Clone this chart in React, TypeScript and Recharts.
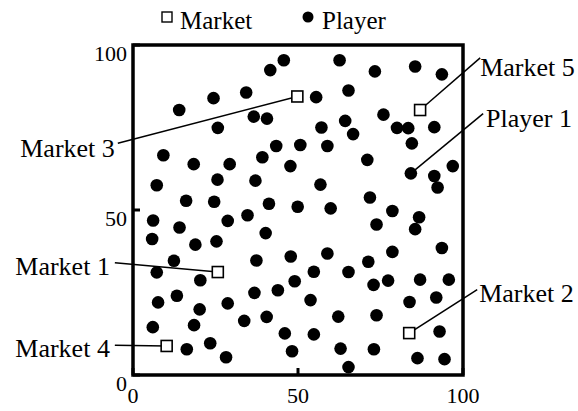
import React from "react";
import {
  ScatterChart,
  Scatter,
  XAxis,
  YAxis,
  ReferenceArea,
  ReferenceLine,
  ReferenceDot,
  Legend,
} from "recharts";

const FONT = '"Liberation Serif", "Times New Roman", serif';

const playerX = [
  45.7, 41.6, 34.3, 24.4, 14.0, 36.6, 40.6, 25.7, 43.4, 50.7, 9.2, 18.4, 29.3, 39.2, 47.7, 7.2, 25.6, 37.1, 16.1, 24.6, 41.2, 49.9, 6.1, 34.7, 28.7,
  62.6, 73.3, 85.5, 93.6, 55.5, 65.3, 75.9, 64.3, 57.1, 66.7, 80.0, 83.4, 91.3, 84.5, 58.9, 71.0, 84.2, 91.3, 96.9, 92.3, 56.8, 71.8, 59.9, 78.6, 86.7,
  14.1, 5.8, 18.9, 25.3, 40.2, 12.4, 7.2, 20.4, 37.4, 47.8, 49.0, 7.6, 13.3, 20.2, 28.7, 36.8, 43.9, 6.0, 18.5, 33.7, 40.5, 46.0, 16.3, 23.4, 28.2, 48.2,
  85.5, 73.8, 93.6, 78.6, 71.3, 58.9, 54.8, 65.3, 72.9, 77.3, 87.0, 95.7, 53.8, 62.2, 73.8, 83.8, 91.9, 54.8, 62.9, 73.0, 92.9, 86.2, 94.4, 65.3,
];
const playerY = [
  95.4, 92.4, 85.6, 83.9, 80.3, 78.3, 77.7, 74.9, 69.4, 69.7, 66.6, 63.9, 63.9, 66.0, 63.3, 57.5, 59.2, 58.9, 52.8, 52.5, 51.9, 51.0, 46.8, 48.4, 46.7,
  95.4, 92.0, 93.5, 91.1, 84.2, 86.2, 78.9, 77.0, 75.0, 73.0, 74.9, 74.8, 75.1, 70.2, 69.4, 65.2, 61.1, 60.3, 63.3, 56.8, 57.7, 53.8, 50.5, 49.7, 47.8,
  44.7, 41.2, 39.5, 40.5, 43.0, 34.6, 31.1, 28.7, 34.7, 35.9, 28.4, 22.0, 24.0, 19.9, 21.7, 24.9, 25.7, 14.5, 15.1, 16.4, 17.6, 12.6, 7.8, 9.6, 5.4, 7.2,
  44.2, 45.6, 38.5, 37.3, 34.3, 36.8, 31.3, 31.2, 27.3, 28.6, 28.9, 28.9, 22.7, 17.7, 18.1, 22.1, 23.5, 12.3, 8.0, 7.8, 13.2, 5.1, 4.8, 2.4,
];

const marketNames = ["Market 1", "Market 2", "Market 3", "Market 4", "Market 5"];
const marketX = [25.7, 83.7, 49.8, 10.2, 87.0];
const marketY = [31.2, 12.7, 84.4, 8.8, 80.3];

const axisTicks = [0, 50, 100];

// annotations: label, where the text sits, where the leader line starts, and the point it points to
const annoLabels = ["Market 3", "Market 5", "Player 1", "Market 1", "Market 2", "Market 4"];
const annoSide = ["left", "right", "right", "left", "right", "left"];
const annoTextX = [-5.5, 105.2, 107.0, -7.0, 104.9, -7.0];
const annoTextY = [66.0, 90.7, 75.3, 30.4, 22.0, 5.4];
const annoLineX = [-4.6, 105.2, 106.1, -5.5, 104.3, -5.5];
const annoLineY = [70.2, 96.1, 79.2, 34.0, 25.9, 9.0];
const annoTargetX = [marketX[2], marketX[4], playerX[41], marketX[0], marketX[1], marketX[3]];
const annoTargetY = [marketY[2], marketY[4], playerY[41], marketY[0], marketY[1], marketY[3]];

const players = playerX.map((x, i) => ({ x, y: playerY[i] }));
const markets = marketX.map((x, i) => ({ x, y: marketY[i], name: marketNames[i] }));

const PlayerDot = (p: any) => <circle cx={p.cx} cy={p.cy} r={6.3} fill="#000" />;
const MarketSquare = (p: any) => (
  <rect x={p.cx - 5.5} y={p.cy - 5.5} width={11} height={11} fill="#fff" stroke="#000" strokeWidth={1.6} />
);

const XTick = (p: any) => (
  <g>
    <line x1={p.x} x2={p.x} y1={p.y} y2={p.y - 7} stroke="#000" strokeWidth={3} />
    <text x={p.x} y={p.y + 28} textAnchor="middle" fontFamily={FONT} fontSize={22} fill="#000">
      {p.payload.value}
    </text>
  </g>
);

const YTick = (p: any) => (
  <g>
    <line x1={p.x + 6} x2={p.x + 13} y1={p.y} y2={p.y} stroke="#000" strokeWidth={3} />
    <text x={p.x} y={p.y + 16} textAnchor="end" fontFamily={FONT} fontSize={22} fill="#000">
      {p.payload.value}
    </text>
  </g>
);

const LegendContent = () => (
  <svg width={260} height={40}>
    <rect x={7} y={12} width={10} height={10} fill="#fff" stroke="#000" strokeWidth={1.4} />
    <text x={25} y={29} fontFamily={FONT} fontSize={25} fill="#000">Market</text>
    <circle cx={153} cy={17} r={5.5} fill="#000" />
    <text x={167} y={29} fontFamily={FONT} fontSize={25} fill="#000">Player</text>
  </svg>
);

export default function App() {
  return (
    <div style={{ position: "absolute", left: 0, top: 0 }}>
      <ScatterChart width={578} height={411} margin={{ top: 45, right: 115, bottom: 0, left: 0 }}>
        <XAxis
          type="number"
          dataKey="x"
          domain={[0, 100]}
          ticks={axisTicks}
          allowDataOverflow
          height={36}
          axisLine={false}
          tickLine={false}
          tickSize={0}
          tickMargin={0}
          tick={<XTick />}
        />
        <YAxis
          type="number"
          dataKey="y"
          domain={[0, 100]}
          ticks={axisTicks}
          allowDataOverflow
          width={133}
          axisLine={false}
          tickLine={false}
          tickSize={0}
          tickMargin={6}
          tick={<YTick />}
        />
        <Legend
          layout="horizontal"
          verticalAlign="middle"
          align="center"
          content={<LegendContent />}
          wrapperStyle={{ top: 0, left: 155, width: 260, height: 40 }}
        />
        <ReferenceArea x1={0} x2={100} y1={0} y2={100} fill="none" stroke="#000" strokeWidth={3.5} ifOverflow="visible" />
        {annoLabels.map((l, i) => (
          <ReferenceLine
            key={"l" + l}
            segment={[
              { x: annoLineX[i], y: annoLineY[i] },
              { x: annoTargetX[i], y: annoTargetY[i] },
            ]}
            stroke="#000"
            strokeWidth={1.5}
            ifOverflow="visible"
          />
        ))}
        <Scatter name="Player" data={players} shape={PlayerDot} isAnimationActive={false} legendType="circle" />
        <Scatter name="Market" data={markets} shape={MarketSquare} isAnimationActive={false} legendType="square" />
        {annoLabels.map((l, i) => (
          <ReferenceDot
            key={"t" + l}
            x={annoTextX[i]}
            y={annoTextY[i]}
            r={0}
            ifOverflow="visible"
            shape={(p: any) => (
              <text
                x={p.cx}
                y={p.cy}
                textAnchor={annoSide[i] === "left" ? "end" : "start"}
                fontFamily={FONT}
                fontSize={26}
                fill="#000"
              >
                {l}
              </text>
            )}
          />
        ))}
      </ScatterChart>
    </div>
  );
}
